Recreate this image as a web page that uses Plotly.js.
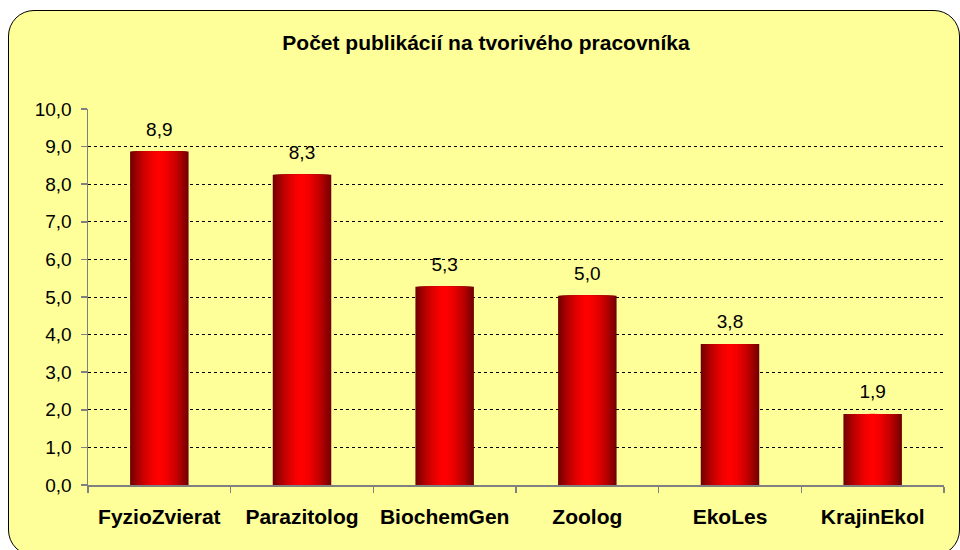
<!DOCTYPE html>
<html>
<head>
<meta charset="utf-8">
<script src="https://cdn.plot.ly/plotly-3.0.1.min.js"></script>
<style>
  html, body { margin: 0; padding: 0; background: #ffffff; width: 960px; height: 550px; overflow: hidden; }
  #frame { position: absolute; left: 8px; top: 10px; width: 952px; height: 546px; box-sizing: border-box;
           border: 1.5px solid #000; border-radius: 26px; background: #FFFF99; }
  #chart { position: absolute; left: 0; top: 0; width: 960px; height: 550px; }
</style>
</head>
<body>
<div id="frame"></div>
<div id="chart"></div>
<script>
const categories = ["FyzioZvierat", "Parazitolog", "BiochemGen", "Zoolog", "EkoLes", "KrajinEkol"];
const values = [8.87, 8.25, 5.27, 5.03, 3.75, 1.89];
const yTickValues = [0, 1, 2, 3, 4, 5, 6, 7, 8, 9, 10];
const chartTitle = "Počet publikácií na tvorivého pracovníka";

const FONT = "Arial, 'Liberation Sans', sans-serif";
const barWidth = 0.41;
const strips = 22;
const traces = [];
for (let i = 0; i < strips; i++) {
  const t = 1 - i / strips;            // relative half-width of this strip
  const r = Math.round(255 - 140 * Math.pow(t, 1.7));
  traces.push({
    type: "bar",
    x: categories,
    y: values,
    width: barWidth * t,
    marker: { color: "rgb(" + r + ",0,0)", line: { width: 0 } },
    hoverinfo: "skip",
    showlegend: false
  });
}
traces.push({
  type: "scatter",
  mode: "markers+text",
  x: categories,
  y: values,
  text: values.map(v => v.toFixed(1).replace(".", ",")),
  textposition: "top center",
  textfont: { family: FONT, size: 19, color: "#000" },
  marker: { size: 16, color: "rgba(0,0,0,0)" },
  hoverinfo: "skip",
  showlegend: false,
  cliponaxis: false
});

const layout = {
  width: 960,
  height: 550,
  paper_bgcolor: "rgba(0,0,0,0)",
  plot_bgcolor: "rgba(0,0,0,0)",
  separators: ",.",
  barmode: "overlay",
  margin: { l: 88, r: 16, t: 109, b: 65 },
  font: { family: FONT, size: 19, color: "#000" },
  title: {
    text: "<b>" + chartTitle + "</b>",
    font: { family: FONT, size: 21, color: "#000" },
    x: 486 / 960, xref: "container", xanchor: "center",
    y: 1 - 43 / 550, yref: "container", yanchor: "middle"
  },
  xaxis: {
    type: "category",
    showline: true, linecolor: "#808080", linewidth: 1.5,
    ticks: "outside", tickson: "boundaries", ticklen: 6, tickcolor: "#808080", tickwidth: 1.5,
    showgrid: false,
    tickfont: { family: FONT, size: 21, color: "#000", weight: "bold" },
    ticklabelstandoff: 12,
    fixedrange: true
  },
  yaxis: {
    range: [0, 10],
    tickvals: yTickValues,
    tickformat: ".1f",
    showline: true, linecolor: "#808080", linewidth: 1.5,
    ticks: "outside", ticklen: 6, tickcolor: "#808080", tickwidth: 1.5,
    showgrid: true, gridcolor: "#000", gridwidth: 1, griddash: "3px,3px",
    zeroline: false,
    tickfont: { family: FONT, size: 19, color: "#000" },
    ticklabelstandoff: 5,
    fixedrange: true
  }
};

Plotly.newPlot("chart", traces, layout, { displayModeBar: false, staticPlot: true });
</script>
</body>
</html>
